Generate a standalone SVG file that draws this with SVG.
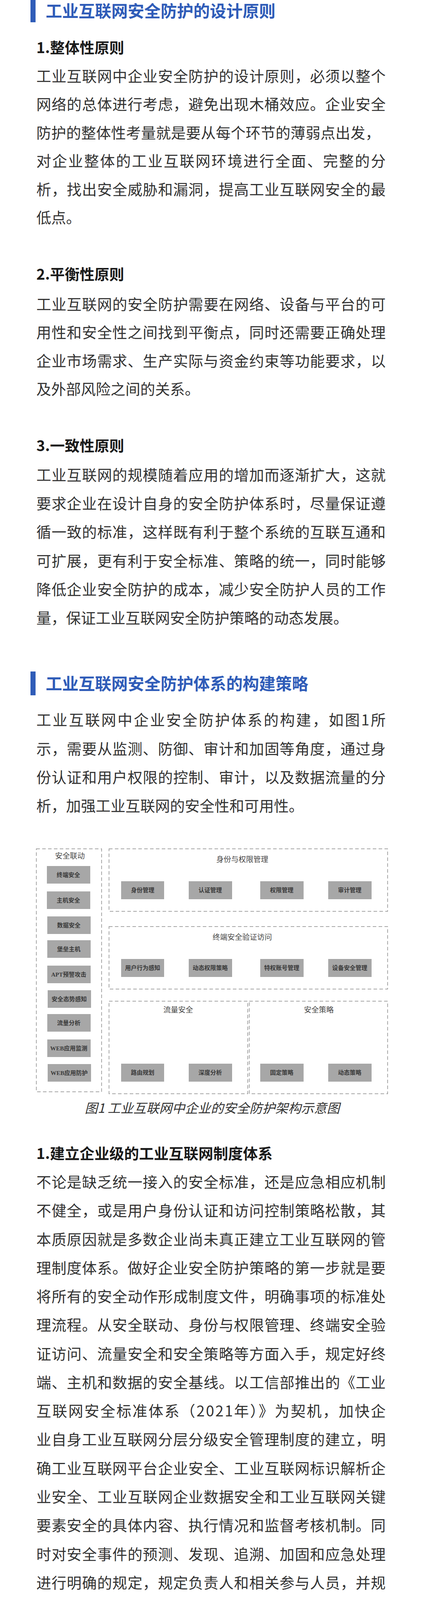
<svg xmlns="http://www.w3.org/2000/svg" width="1080" height="4740" viewBox="0 0 1080 4740">
<style>
.t{font-family:"Noto Sans CJK SC","Noto Sans",sans-serif;font-size:42px;font-weight:bold;fill:#2f5cb8}
.h{font-family:"Noto Sans CJK SC","Noto Sans",sans-serif;font-size:38px;font-weight:bold;fill:#1a1a1a}
.b{font-family:"Noto Sans CJK SC","Noto Sans",sans-serif;font-size:38px;fill:#333}
.grp{fill:none;stroke:#8a8a8a;stroke-width:1.5;stroke-dasharray:9 6}
.gb{fill:#a7a7a7}
.gt{font-family:"Noto Sans CJK SC",sans-serif;font-size:19px;fill:#444;text-anchor:middle}
.bt{font-family:"Liberation Serif","Noto Sans CJK SC",serif;font-size:15px;font-weight:bold;fill:#3a3a3a;text-anchor:middle}
.cap{font-family:"Noto Sans CJK SC",sans-serif;font-size:33px;font-style:italic;fill:#333;text-anchor:middle}
</style>
<rect width="1080" height="4740" fill="#fff"/>
<rect x="78" y="-2" width="13" height="59" fill="#2f5cb8"/>
<text class="t" x="117" y="44">工业互联网安全防护的设计原则</text>
<text class="h" x="93" y="136">1.整体性原则</text>
<g class="b">
<text x="93" y="209" textLength="894" lengthAdjust="spacing">工业互联网中企业安全防护的设计原则，必须以整个</text>
<text x="93" y="281" textLength="894" lengthAdjust="spacing">网络的总体进行考虑，避免出现木桶效应。企业安全</text>
<text x="93" y="354" textLength="880" lengthAdjust="spacing">防护的整体性考量就是要从每个环节的薄弱点出发，</text>
<text x="93" y="426" textLength="894" lengthAdjust="spacing">对企业整体的工业互联网环境进行全面、完整的分</text>
<text x="93" y="499" textLength="894" lengthAdjust="spacing">析，找出安全威胁和漏洞，提高工业互联网安全的最</text>
<text x="93" y="571">低点。</text>
</g>
<text class="h" x="93" y="716">2.平衡性原则</text>
<g class="b">
<text x="93" y="793" textLength="894" lengthAdjust="spacing">工业互联网的安全防护需要在网络、设备与平台的可</text>
<text x="93" y="865" textLength="894" lengthAdjust="spacing">用性和安全性之间找到平衡点，同时还需要正确处理</text>
<text x="93" y="938" textLength="894" lengthAdjust="spacing">企业市场需求、生产实际与资金约束等功能要求，以</text>
<text x="93" y="1010">及外部风险之间的关系。</text>
</g>
<text class="h" x="93" y="1155">3.一致性原则</text>
<g class="b">
<text x="93" y="1230" textLength="894" lengthAdjust="spacing">工业互联网的规模随着应用的增加而逐渐扩大，这就</text>
<text x="93" y="1303" textLength="894" lengthAdjust="spacing">要求企业在设计自身的安全防护体系时，尽量保证遵</text>
<text x="93" y="1376" textLength="894" lengthAdjust="spacing">循一致的标准，这样既有利于整个系统的互联互通和</text>
<text x="93" y="1450" textLength="894" lengthAdjust="spacing">可扩展，更有利于安全标准、策略的统一，同时能够</text>
<text x="93" y="1523" textLength="894" lengthAdjust="spacing">降低企业安全防护的成本，减少安全防护人员的工作</text>
<text x="93" y="1596">量，保证工业互联网安全防护策略的动态发展。</text>
</g>
<rect x="78" y="1719" width="13" height="61" fill="#2f5cb8"/>
<text class="t" x="117" y="1766">工业互联网安全防护体系的构建策略</text>
<g class="b">
<text x="93" y="1857" textLength="894" lengthAdjust="spacing">工业互联网中企业安全防护体系的构建，如图1所</text>
<text x="93" y="1931" textLength="894" lengthAdjust="spacing">示，需要从监测、防御、审计和加固等角度，通过身</text>
<text x="93" y="2004" textLength="894" lengthAdjust="spacing">份认证和用户权限的控制、审计，以及数据流量的分</text>
<text x="93" y="2077">析，加强工业互联网的安全性和可用性。</text>
</g>
<g id="fig">
<g id="g-linkage">
<rect class="grp" x="93" y="2173" width="167" height="622"/>
<text class="gt" x="179" y="2198">安全联动</text>
<g><rect class="gb" x="120" y="2217" width="111" height="45"/><text class="bt" x="175" y="2245">终端安全</text></g>
<g><rect class="gb" x="120" y="2282" width="111" height="45"/><text class="bt" x="175" y="2310">主机安全</text></g>
<g><rect class="gb" x="121" y="2346" width="111" height="45"/><text class="bt" x="176" y="2374">数据安全</text></g>
<g><rect class="gb" x="121" y="2407" width="111" height="45"/><text class="bt" x="176" y="2435">堡垒主机</text></g>
<g><rect class="gb" x="121" y="2472" width="111" height="45"/><text class="bt" x="176" y="2500">APT预警攻击</text></g>
<g><rect class="gb" x="122" y="2535" width="111" height="45"/><text class="bt" x="177" y="2563">安全态势感知</text></g>
<g><rect class="gb" x="121" y="2596" width="111" height="45"/><text class="bt" x="176" y="2624">流量分析</text></g>
<g><rect class="gb" x="121" y="2661" width="111" height="45"/><text class="bt" x="176" y="2689">WEB应用监测</text></g>
<g><rect class="gb" x="122" y="2724" width="111" height="45"/><text class="bt" x="177" y="2752">WEB应用防护</text></g>
</g>
<g id="g-identity">
<rect class="grp" x="279" y="2173" width="713" height="160"/>
<text class="gt" x="620" y="2207">身份与权限管理</text>
<g><rect class="gb" x="310" y="2256" width="110" height="46"/><text class="bt" x="365" y="2284">身份管理</text></g>
<g><rect class="gb" x="483" y="2256" width="111" height="46"/><text class="bt" x="538" y="2284">认证管理</text></g>
<g><rect class="gb" x="666" y="2256" width="111" height="46"/><text class="bt" x="721" y="2284">权限管理</text></g>
<g><rect class="gb" x="840" y="2256" width="111" height="46"/><text class="bt" x="895" y="2284">审计管理</text></g>
</g>
<g id="g-terminal">
<rect class="grp" x="279" y="2372" width="713" height="160"/>
<text class="gt" x="620" y="2406">终端安全验证访问</text>
<g><rect class="gb" x="310" y="2455" width="110" height="46"/><text class="bt" x="365" y="2483">用户行为感知</text></g>
<g><rect class="gb" x="483" y="2455" width="111" height="46"/><text class="bt" x="538" y="2483">动态权限策略</text></g>
<g><rect class="gb" x="666" y="2455" width="111" height="46"/><text class="bt" x="721" y="2483">特权账号管理</text></g>
<g><rect class="gb" x="840" y="2455" width="111" height="46"/><text class="bt" x="895" y="2483">设备安全管理</text></g>
</g>
<g id="g-traffic">
<rect class="grp" x="279" y="2563" width="355" height="237"/>
<text class="gt" x="456" y="2592">流量安全</text>
<g><rect class="gb" x="310" y="2723" width="110" height="46"/><text class="bt" x="365" y="2751">路由规划</text></g>
<g><rect class="gb" x="483" y="2723" width="111" height="46"/><text class="bt" x="538" y="2751">深度分析</text></g>
</g>
<g id="g-policy">
<rect class="grp" x="638" y="2563" width="354" height="237"/>
<text class="gt" x="816" y="2592">安全策略</text>
<g><rect class="gb" x="666" y="2723" width="111" height="46"/><text class="bt" x="721" y="2751">固定策略</text></g>
<g><rect class="gb" x="840" y="2723" width="111" height="46"/><text class="bt" x="895" y="2751">动态策略</text></g>
</g>
<g id="connectors"/>
<text class="cap" x="543" y="2849">图1 工业互联网中企业的安全防护架构示意图</text>
</g>
<text class="h" x="93" y="2967">1.建立企业级的工业互联网制度体系</text>
<g class="b">
<text x="93" y="3040" textLength="894" lengthAdjust="spacing">不论是缺乏统一接入的安全标准，还是应急相应机制</text>
<text x="93" y="3113" textLength="894" lengthAdjust="spacing">不健全，或是用户身份认证和访问控制策略松散，其</text>
<text x="93" y="3187" textLength="894" lengthAdjust="spacing">本质原因就是多数企业尚未真正建立工业互联网的管</text>
<text x="93" y="3260" textLength="894" lengthAdjust="spacing">理制度体系。做好企业安全防护策略的第一步就是要</text>
<text x="93" y="3333" textLength="894" lengthAdjust="spacing">将所有的安全动作形成制度文件，明确事项的标准处</text>
<text x="93" y="3406" textLength="894" lengthAdjust="spacing">理流程。从安全联动、身份与权限管理、终端安全验</text>
<text x="93" y="3480" textLength="894" lengthAdjust="spacing">证访问、流量安全和安全策略等方面入手，规定好终</text>
<text x="93" y="3553" textLength="894" lengthAdjust="spacing">端、主机和数据的安全基线。以工信部推出的《工业</text>
<text x="93" y="3626" textLength="894" lengthAdjust="spacing">互联网安全标准体系（2021年）》为契机，加快企</text>
<text x="93" y="3699" textLength="894" lengthAdjust="spacing">业自身工业互联网分层分级安全管理制度的建立，明</text>
<text x="93" y="3773" textLength="894" lengthAdjust="spacing">确工业互联网平台企业安全、工业互联网标识解析企</text>
<text x="93" y="3846" textLength="894" lengthAdjust="spacing">业安全、工业互联网企业数据安全和工业互联网关键</text>
<text x="93" y="3919" textLength="894" lengthAdjust="spacing">要素安全的具体内容、执行情况和监督考核机制。同</text>
<text x="93" y="3993" textLength="894" lengthAdjust="spacing">时对安全事件的预测、发现、追溯、加固和应急处理</text>
<text x="93" y="4066" textLength="894" lengthAdjust="spacing">进行明确的规定，规定负责人和相关参与人员，并规</text>
<text x="93" y="4139" textLength="880" lengthAdjust="spacing">定安全风险事件的分级原则以及其上报和处置流程、</text>
<text x="93" y="4213" textLength="894" lengthAdjust="spacing">时间限制等。特别需要制定权限开放的审批流程，对</text>
<text x="93" y="4286" textLength="894" lengthAdjust="spacing">于特殊情况下的权限扩大须配有评估机制和闭环措</text>
<text x="93" y="4359" textLength="894" lengthAdjust="spacing">施。对于企业工业互联网的普通使用者，需要通过管</text>
<text x="93" y="4433" textLength="880" lengthAdjust="spacing">理制度和奖惩措施，进一步提升其安全意识。总之，</text>
<text x="93" y="4506" textLength="894" lengthAdjust="spacing">制度体系是整个安全防护体系的根本，只有通过制度</text>
<text x="93" y="4579" textLength="894" lengthAdjust="spacing">体系增强全员意识，规范运行、维护和使用过程中的</text>
<text x="93" y="4653">各种行为，才能让安全防护策略达到最佳效果。</text>
</g>
</svg>
